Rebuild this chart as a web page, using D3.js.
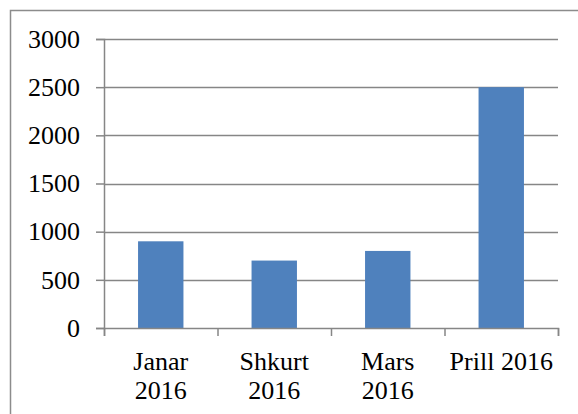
<!DOCTYPE html>
<html>
<head>
<meta charset="utf-8">
<script src="https://cdn.jsdelivr.net/npm/d3@7"></script>
</head>
<body style="margin:0; background:#fff">
<div id="chart"></div>
<script>
let months = [['Janar', '2016'], ['Shkurt', '2016'], ['Mars', '2016'], ['Prill 2016']];
let values = [900, 700, 800, 2500];
let yTicks = [0, 500, 1000, 1500, 2000, 2500, 3000];

let font = 'Liberation Serif';
let margin = {top: 39, right: 20, bottom: 86, left: 104};
let width = 558 - margin.left;
let height = 328 - margin.top;

let svg = d3.select('#chart')
  .append('svg')
  .attr('width', 578)
  .attr('height', 414)
  .style('display', 'block');

// outer chart border
svg.append('rect')
  .attr('x', 10.5)
  .attr('y', 10.5)
  .attr('width', 580)
  .attr('height', 420)
  .attr('fill', 'none')
  .attr('stroke', '#8c8c8c')
  .attr('stroke-width', 1.5);

let g = svg.append('g')
  .attr('transform', `translate(${margin.left},${margin.top})`);

let x = d3.scaleBand()
  .domain(d3.range(values.length))
  .range([0, width])
  .paddingInner(0.6)
  .paddingOuter(0.3);

let xEdge = d3.scaleLinear().domain([0, values.length]).range([0, width]);
let y = d3.scaleLinear().domain([0, 3000]).range([height, 0]);

// gridlines
g.append('g')
  .attr('class', 'grid')
  .selectAll('line')
  .data(yTicks.filter(d => d > 0))
  .enter()
  .append('line')
  .attr('x1', 0)
  .attr('x2', width)
  .attr('y1', d => Math.round(y(d)) + 0.5)
  .attr('y2', d => Math.round(y(d)) + 0.5)
  .attr('stroke', '#868686')
  .attr('stroke-width', 1.5);

// bars
g.append('g')
  .selectAll('rect')
  .data(values)
  .enter()
  .append('rect')
  .attr('x', (d, i) => x(i))
  .attr('y', d => y(d))
  .attr('width', x.bandwidth())
  .attr('height', d => height - y(d))
  .attr('fill', '#4f81bd');

// y axis
let yAxis = g.append('g')
  .call(d3.axisLeft(y).tickValues(yTicks).tickSize(8).tickPadding(16).tickFormat(d3.format('d')));
yAxis.attr('font-family', font).attr('font-size', 26);
yAxis.select('.domain').attr('stroke', '#868686').attr('stroke-width', 1.5);
yAxis.selectAll('.tick line').attr('stroke', '#868686').attr('stroke-width', 1.5);
yAxis.selectAll('.tick text')
  .attr('font-family', font)
  .attr('font-size', 26)
  .attr('fill', '#000');

// x axis
let xAxis = g.append('g')
  .attr('transform', `translate(0,${height})`)
  .call(d3.axisBottom(xEdge).tickValues(d3.range(values.length + 1)).tickSize(8).tickFormat(''));
xAxis.select('.domain').attr('stroke', '#868686').attr('stroke-width', 1.5);
xAxis.selectAll('.tick line').attr('stroke', '#868686').attr('stroke-width', 1.5);

// category labels
g.append('g')
  .selectAll('text')
  .data(months)
  .enter()
  .append('text')
  .attr('x', (d, i) => x(i) + x.bandwidth() / 2)
  .attr('y', height + 42)
  .attr('text-anchor', 'middle')
  .attr('font-family', font)
  .attr('font-size', 26)
  .attr('fill', '#000')
  .selectAll('tspan')
  .data(d => d)
  .enter()
  .append('tspan')
  .attr('x', function() { return d3.select(this.parentNode).attr('x'); })
  .attr('dy', (d, i) => i === 0 ? 0 : 29)
  .text(d => d);
</script>
</body>
</html>
